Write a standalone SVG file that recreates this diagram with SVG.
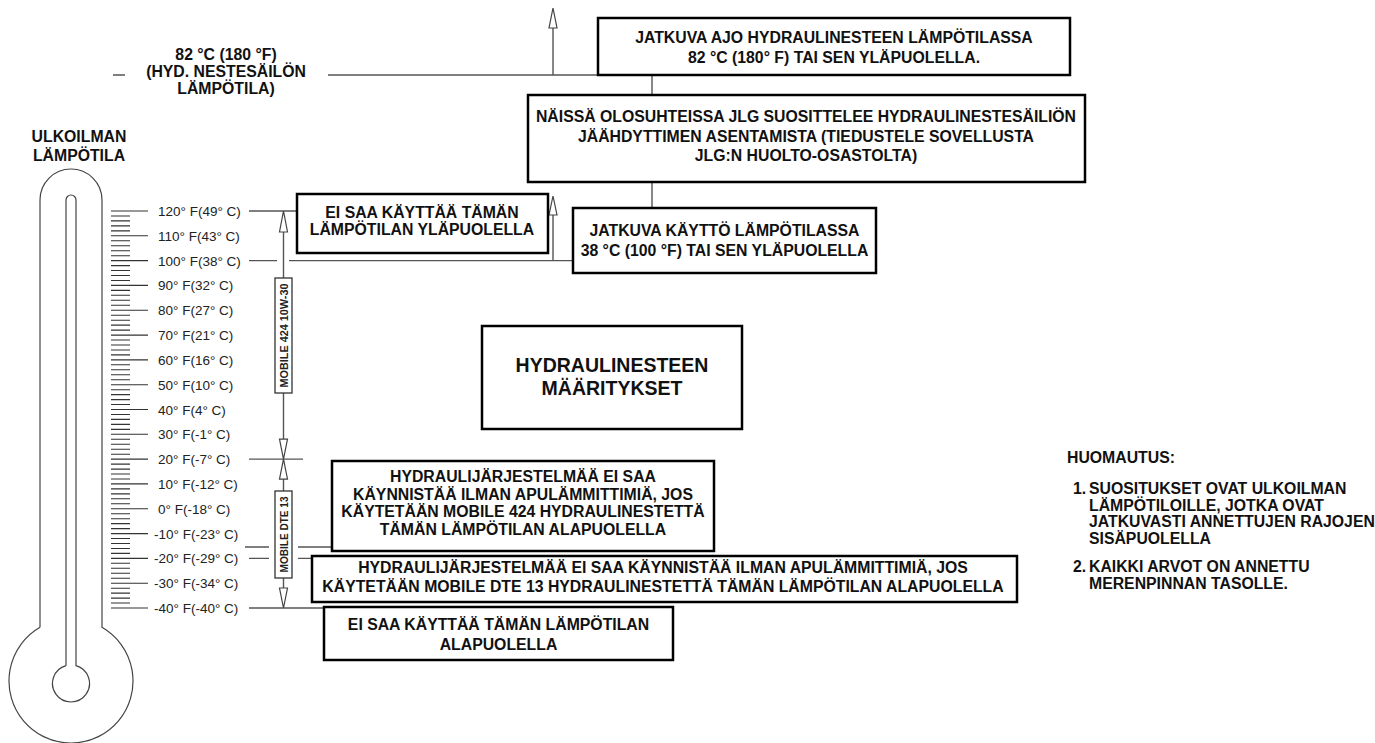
<svg xmlns="http://www.w3.org/2000/svg" width="1375" height="743" viewBox="0 0 1375 743">
<style>
.box{fill:#fff;stroke:#000;stroke-width:2.5}
.sbox{fill:#fff;stroke:#333;stroke-width:1.3}
.ln{stroke:#555;stroke-width:1.4;fill:none}
.th{stroke:#444;stroke-width:1.2;fill:none}
.tk{stroke:#333;stroke-width:1.1;fill:none}
.ah{fill:#fff;stroke:#444;stroke-width:1.2}
.t{font-family:"Liberation Sans",Arial,sans-serif;font-weight:bold;font-size:15.8px;fill:#111;text-anchor:middle}
.tl{font-family:"Liberation Sans",Arial,sans-serif;font-weight:bold;font-size:15.8px;fill:#111}
.big{font-size:19.5px}
.lbl{font-family:"Liberation Sans",Arial,sans-serif;font-size:13.5px;fill:#222}
.rot{font-family:"Liberation Sans",Arial,sans-serif;font-weight:bold;font-size:11px;fill:#222;text-anchor:middle}
</style>
<rect width="1375" height="743" fill="#fff"/>

<g id="thermometer">
<path class="th" d="M40,627.3 V200 A31,31 0 0 1 102,200 V627.3 A62,62 0 1 1 40,627.3"/>
<path class="th" d="M66,665.7 V200 A5,5 0 0 1 76,200 V665.7 A18.5,18.5 0 1 1 66,665.7"/>
<path class="tk" d="M111,211H148M111,235.8H148M111,260.6H148M111,285.4H148M111,310.3H148M111,335.1H148M111,359.9H148M111,384.7H148M111,409.5H148M111,434.3H148M111,459.1H148M111,483.9H148M111,508.8H148M111,533.6H148M111,558.4H148M111,583.2H148M111,608H148"/>
<path class="tk" d="M111,216H130M111,220.9H130M111,225.9H130M111,230.9H130M111,240.8H130M111,245.7H130M111,250.7H130M111,255.7H130M111,265.6H130M111,270.5H130M111,275.5H130M111,280.5H130M111,290.4H130M111,295.3H130M111,300.3H130M111,305.3H130M111,315.2H130M111,320.2H130M111,325.1H130M111,330.1H130M111,340H130M111,345H130M111,350H130M111,354.9H130M111,364.8H130M111,369.8H130M111,374.8H130M111,379.7H130M111,389.7H130M111,394.6H130M111,399.6H130M111,404.5H130M111,414.5H130M111,419.4H130M111,424.4H130M111,429.4H130M111,439.3H130M111,444.2H130M111,449.2H130M111,454.2H130M111,464.1H130M111,469.1H130M111,474H130M111,479H130M111,488.9H130M111,493.9H130M111,498.8H130M111,503.8H130M111,513.7H130M111,518.7H130M111,523.6H130M111,528.6H130M111,538.5H130M111,543.5H130M111,548.5H130M111,553.4H130M111,563.3H130M111,568.3H130M111,573.3H130M111,578.2H130M111,588.2H130M111,593.1H130M111,598.1H130M111,603H130"/>
<text class="t" x="79" y="142">ULKOILMAN</text>
<text class="t" x="79" y="161">LÄMPÖTILA</text>
<g class="lbl">
<text x="158" y="216">120° F(49° C)</text>
<text x="158" y="240.8">110° F(43° C)</text>
<text x="158" y="265.6">100° F(38° C)</text>
<text x="158" y="290.4">90° F(32° C)</text>
<text x="158" y="315.3">80° F(27° C)</text>
<text x="158" y="340.1">70° F(21° C)</text>
<text x="158" y="364.9">60° F(16° C)</text>
<text x="158" y="389.7">50° F(10° C)</text>
<text x="158" y="414.5">40° F(4° C)</text>
<text x="158" y="439.3">30° F(-1° C)</text>
<text x="158" y="464.1">20° F(-7° C)</text>
<text x="158" y="488.9">10° F(-12° C)</text>
<text x="158" y="513.8">0° F(-18° C)</text>
<text x="154" y="538.6">-10° F(-23° C)</text>
<text x="154" y="563.4">-20° F(-29° C)</text>
<text x="154" y="588.2">-30° F(-34° C)</text>
<text x="154" y="613">-40° F(-40° C)</text>
</g>
</g>

<g id="connectors">
<path class="ln" d="M113,75H125M328,75H598M553,75V28M652,75V95M652,182V208"/>
<path class="ln" d="M249,211H297M249,260.6H277M289,260.6H573M553,260.6V215"/>
<path class="ln" d="M249,459.1H303M245,547H269M298,547H332M249,558.4H269M298,558.4H312M249,608H324"/>
<path class="ln" d="M283.5,232V278M283.5,393V439.1M283.5,479.1V491M283.5,578V588"/>
<polygon class="ah" points="553,8 549,28 557,28"/>
<polygon class="ah" points="553,196 549,215 557,215"/>
<polygon class="ah" points="283.5,211 279.5,232 287.5,232"/>
<polygon class="ah" points="283.5,459.1 279.5,439.1 287.5,439.1"/>
<polygon class="ah" points="283.5,459.1 279.5,479.1 287.5,479.1"/>
<polygon class="ah" points="283.5,608 279.5,588 287.5,588"/>
</g>

<g id="label-82">
<text class="t" x="226" y="60">82 °C (180 °F)</text>
<text class="t" x="226" y="77">(HYD. NESTESÄILÖN</text>
<text class="t" x="226" y="94">LÄMPÖTILA)</text>
</g>

<g id="mobile424">
<rect class="sbox" x="275" y="278" width="17" height="115"/>
<text class="rot" transform="translate(287.5,335.5) rotate(-90)" textLength="104" lengthAdjust="spacingAndGlyphs">MOBILE 424 10W-30</text>
</g>
<g id="mobiledte13">
<rect class="sbox" x="275" y="491" width="17" height="87"/>
<text class="rot" transform="translate(287.5,534.5) rotate(-90)" textLength="76" lengthAdjust="spacingAndGlyphs">MOBILE DTE 13</text>
</g>

<g id="boxA">
<rect class="box" x="598" y="18" width="472" height="57"/>
<text class="t" x="834" y="43">JATKUVA AJO HYDRAULINESTEEN LÄMPÖTILASSA</text>
<text class="t" x="834" y="63">82 °C (180° F) TAI SEN YLÄPUOLELLA.</text>
</g>
<g id="boxB">
<rect class="box" x="528" y="95" width="557" height="87"/>
<text class="t" x="806" y="122">NÄISSÄ OLOSUHTEISSA JLG SUOSITTELEE HYDRAULINESTESÄILIÖN</text>
<text class="t" x="806" y="141.5">JÄÄHDYTTIMEN ASENTAMISTA (TIEDUSTELE SOVELLUSTA</text>
<text class="t" x="806" y="161">JLG:N HUOLTO-OSASTOLTA)</text>
</g>
<g id="boxC">
<rect class="box" x="573" y="208" width="303" height="65"/>
<text class="t" x="724.5" y="236">JATKUVA KÄYTTÖ LÄMPÖTILASSA</text>
<text class="t" x="724.5" y="256">38 °C (100 °F) TAI SEN YLÄPUOLELLA</text>
</g>
<g id="boxD">
<rect class="box" x="297" y="194" width="251" height="59"/>
<text class="t" x="422" y="218">EI SAA KÄYTTÄÄ TÄMÄN</text>
<text class="t" x="422" y="235">LÄMPÖTILAN YLÄPUOLELLA</text>
</g>
<g id="boxH">
<rect class="box" x="482" y="326" width="260" height="103"/>
<text class="t big" x="612" y="372">HYDRAULINESTEEN</text>
<text class="t big" x="612" y="395">MÄÄRITYKSET</text>
</g>
<g id="boxE">
<rect class="box" x="332" y="461" width="382" height="90"/>
<text class="t" x="523" y="482">HYDRAULIJÄRJESTELMÄÄ EI SAA</text>
<text class="t" x="523" y="499.5">KÄYNNISTÄÄ ILMAN APULÄMMITTIMIÄ, JOS</text>
<text class="t" x="523" y="517">KÄYTETÄÄN MOBILE 424 HYDRAULINESTETTÄ</text>
<text class="t" x="523" y="534.5">TÄMÄN LÄMPÖTILAN ALAPUOLELLA</text>
</g>
<g id="boxF">
<rect class="box" x="312" y="556" width="705" height="46"/>
<text class="t" x="663" y="573">HYDRAULIJÄRJESTELMÄÄ EI SAA KÄYNNISTÄÄ ILMAN APULÄMMITTIMIÄ, JOS</text>
<text class="t" x="663" y="592">KÄYTETÄÄN MOBILE DTE 13 HYDRAULINESTETTÄ TÄMÄN LÄMPÖTILAN ALAPUOLELLA</text>
</g>
<g id="boxG">
<rect class="box" x="324" y="607" width="349" height="53"/>
<text class="t" x="498.5" y="630">EI SAA KÄYTTÄÄ TÄMÄN LÄMPÖTILAN</text>
<text class="t" x="498.5" y="650">ALAPUOLELLA</text>
</g>

<g id="notes">
<text class="tl" x="1067" y="463">HUOMAUTUS:</text>
<text class="tl" x="1073" y="494">1.</text>
<text class="tl" x="1089" y="494">SUOSITUKSET OVAT ULKOILMAN</text>
<text class="tl" x="1089" y="510.5">LÄMPÖTILOILLE, JOTKA OVAT</text>
<text class="tl" x="1089" y="527">JATKUVASTI ANNETTUJEN RAJOJEN</text>
<text class="tl" x="1089" y="543.5">SISÄPUOLELLA</text>
<text class="tl" x="1073" y="572">2.</text>
<text class="tl" x="1089" y="572">KAIKKI ARVOT ON ANNETTU</text>
<text class="tl" x="1089" y="588.5">MERENPINNAN TASOLLE.</text>
</g>
</svg>
